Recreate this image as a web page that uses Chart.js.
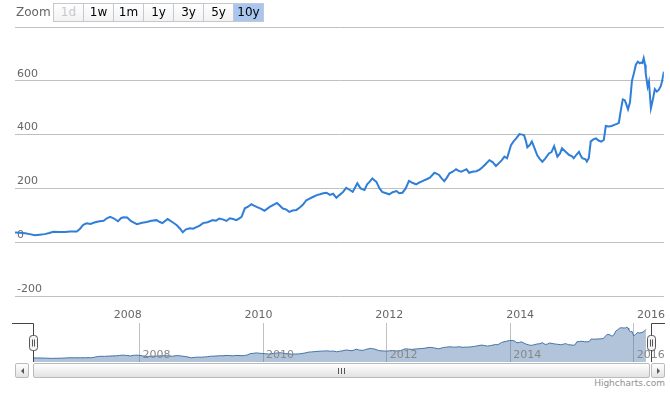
<!DOCTYPE html>
<html><head><meta charset="utf-8">
<script src="https://cdn.jsdelivr.net/npm/chart.js@4.4.0/dist/chart.umd.min.js"></script>
<style>
html,body{margin:0;padding:0;background:#fff;}
#wrap{position:relative;width:670px;height:394px;overflow:hidden;font-family:"DejaVu Sans",Verdana,sans-serif;}
#main{position:absolute;left:0;top:0;}
#nav{position:absolute;left:0;top:318px;}
.zl{position:absolute;left:16px;top:5px;font-size:12px;color:#666;}
.btn{position:absolute;top:3px;height:17px;width:29px;border:1px solid #c4c8d0;background:linear-gradient(#ffffff,#f2f2f2);font-size:12px;line-height:17px;text-align:center;color:#000;}
.btn.sel{background:#a8c6ee;}
.btn.dis{color:#c8c8c8;}
.sb{position:absolute;top:363px;height:13px;border:1px solid #bbb;border-radius:2px;background:linear-gradient(#ffffff,#e2e2e2);box-sizing:content-box;}
.arrL{position:absolute;left:5px;top:4px;width:0;height:0;border-top:3px solid transparent;border-bottom:3px solid transparent;border-right:3px solid #555;}
.arrR{position:absolute;left:5px;top:4px;width:0;height:0;border-top:3px solid transparent;border-bottom:3px solid transparent;border-left:3px solid #555;}
.grip{position:absolute;top:4px;width:1px;height:6px;background:#555;}
.credit{position:absolute;right:5px;top:378px;font-size:9px;color:#909090;}
</style></head>
<body>
<div id="wrap">
  <canvas id="main" width="670" height="320"></canvas>
  <canvas id="nav" width="670" height="46"></canvas>
  <div class="zl">Zoom</div>
  <div class="credit">Highcharts.com</div>
</div>
<script>
// ---- data ----
const years = [
2006.275,2006.35,2006.43,2006.50,2006.58,2006.65,2006.73,2006.80,2006.86,2006.95,
2007.04,2007.12,2007.22,2007.27,2007.32,2007.37,2007.43,2007.50,2007.57,2007.63,
2007.68,2007.73,2007.79,2007.85,2007.90,2007.94,2007.99,2008.05,2008.14,2008.22,
2008.29,2008.36,2008.44,2008.49,2008.53,2008.61,2008.68,2008.75,2008.80,2008.84,
2008.89,2008.95,2009.00,2009.05,2009.10,2009.15,2009.22,2009.30,2009.35,2009.40,
2009.45,2009.51,2009.56,2009.61,2009.66,2009.70,2009.74,2009.79,2009.84,2009.89,
2009.93,2009.97,2010.04,2010.09,2010.13,2010.17,2010.22,2010.28,2010.32,2010.37,
2010.42,2010.47,2010.52,2010.58,2010.63,2010.68,2010.73,2010.78,2010.83,2010.89,
2010.94,2010.99,2011.04,2011.09,2011.14,2011.19,2011.24,2011.29,2011.34,2011.39,
2011.44,2011.48,2011.51,2011.56,2011.62,2011.66,2011.70,2011.74,2011.77,2011.80,
2011.85,2011.89,2011.95,2012.00,2012.05,2012.11,2012.15,2012.20,2012.25,2012.30,
2012.36,2012.41,2012.46,2012.49,2012.53,2012.57,2012.62,2012.69,2012.72,2012.76,
2012.80,2012.84,2012.88,2012.92,2012.97,2013.02,2013.06,2013.10,2013.15,2013.18,
2013.22,2013.27,2013.33,2013.38,2013.42,2013.47,2013.53,2013.58,2013.63,2013.68,
2013.72,2013.76,2013.80,2013.86,2013.90,2013.94,2013.99,2014.03,2014.06,2014.09,
2014.11,2014.15,2014.18,2014.22,2014.26,2014.30,2014.34,2014.38,2014.44,2014.48,
2014.52,2014.57,2014.61,2014.64,2014.70,2014.75,2014.79,2014.82,2014.86,2014.90,
2014.93,2014.95,2015.00,2015.02,2015.05,2015.08,2015.12,2015.16,2015.20,2015.24,
2015.28,2015.31,2015.35,2015.40,2015.44,2015.48,2015.51,2015.54,2015.57,2015.60,
2015.62,2015.65,2015.68,2015.71,2015.74,2015.77,2015.80,2015.83,2015.85,2015.87,
2015.89,2015.91,2015.92,2015.95,2015.97,2016.00,2016.03,2016.06,2016.09,2016.12,
2016.15,2016.17,2016.198
];
const prices = [
36,35,33,30,26,28,30,34,39,38,
38,40,40,50,65,70,68,74,78,80,
89,94,88,78,90,93,92,78,67,72,
75,80,82,75,71,86,75,63,50,37,
48,52,50,56,62,71,74,82,80,88,
85,79,89,86,82,88,94,126,132,141,
136,131,124,117,124,131,138,146,137,125,
122,113,118,120,129,140,156,162,168,175,
178,182,184,176,180,165,176,186,202,195,
187,205,219,200,194,215,225,237,230,225,
200,187,182,178,186,190,182,184,200,228,
220,215,222,225,230,234,240,258,255,250,
237,227,240,256,262,271,265,262,268,271,
258,262,264,270,278,290,305,298,283,295,
305,318,312,361,375,386,402,400,398,375,
353,362,374,350,324,310,299,310,330,335,
357,318,330,349,335,324,320,312,325,336,
320,312,308,300,312,375,382,386,378,374,
380,432,430,432,436,440,444,490,531,528,
515,494,520,600,628,660,671,665,668,666,
684,660,628,578,597,498,530,569,560,566,
580,597,634
];
const yearTicks = [2008, 2010, 2012, 2014, 2016];
const rangeLabels = ['1d','1w','1m','1y','3y','5y','10y'];
const selectedRange = '10y';
const disabledRange = '1d';

const FONT = '"DejaVu Sans", Verdana, sans-serif';
const points = years.map((x, i) => ({x: x, y: prices[i]}));

// range buttons
const wrap = document.getElementById('wrap');
rangeLabels.forEach((t, i) => {
  const b = document.createElement('div');
  b.className = 'btn' + (t === selectedRange ? ' sel' : '') + (t === disabledRange ? ' dis' : '');
  b.style.left = (53 + 30 * i) + 'px';
  b.textContent = t;
  wrap.appendChild(b);
});

// scrollbar
function mk(cls, left, width) {
  const d = document.createElement('div');
  d.className = cls; d.style.left = left + 'px'; d.style.width = width + 'px';
  wrap.appendChild(d); return d;
}
const lb = mk('sb', 15, 12); const la = document.createElement('div'); la.className = 'arrL'; lb.appendChild(la);
const tr = mk('sb', 33, 615);
[-3, 0, 3].forEach(o => { const g = document.createElement('div'); g.className = 'grip'; g.style.left = (307 + o) + 'px'; tr.appendChild(g); });
const rb = mk('sb', 651, 12); const ra = document.createElement('div'); ra.className = 'arrR'; rb.appendChild(ra);

const X_MIN = 2006.275, X_MAX = 2016.198;

new Chart(document.getElementById('main'), {
  type: 'line',
  data: {datasets: [{data: points, borderColor: '#2f7ed8', borderWidth: 2, pointRadius: 0, tension: 0, fill: false}]},
  options: {
    responsive: false, animation: false,
    layout: {padding: {left: 15, right: 5, top: 27, bottom: 0}},
    plugins: {legend: {display: false}, tooltip: {enabled: false}},
    scales: {
      x: {
        type: 'linear', min: X_MIN, max: X_MAX,
        grid: {display: false}, border: {display: false},
        afterBuildTicks: s => { s.ticks = yearTicks.map(v => ({value: v})); },
        afterFit: s => { s.height = 24; },
        ticks: {callback: v => String(v), color: '#666', font: {size: 11, family: FONT}, padding: 5, maxRotation: 0, autoSkip: false}
      },
      y: {
        min: -200, max: 800,
        afterFit: s => { s.width = 0; },
        grid: {color: '#C0C0C0', drawTicks: false}, border: {display: false},
        ticks: {stepSize: 200, mirror: true, padding: 2, labelOffset: -7, color: '#666', font: {size: 11, family: FONT},
          callback: v => v === 800 ? '' : String(v)}
      }
    }
  }
});

const navDecor = {
  id: 'navDecor',
  afterDatasetsDraw(chart) {
    const ctx = chart.ctx, a = chart.chartArea, xs = chart.scales.x;
    ctx.save();
    ctx.fillStyle = '#888';
    ctx.font = '11px ' + FONT;
    ctx.textBaseline = 'alphabetic'; ctx.textAlign = 'left';
    yearTicks.forEach(v => { ctx.fillText(String(v), xs.getPixelForValue(v) + 3, a.bottom - 4); });
    ctx.strokeStyle = '#444'; ctx.lineWidth = 1;
    ctx.beginPath();
    ctx.moveTo(12, a.top + 0.5); ctx.lineTo(a.left + 0.5, a.top + 0.5); ctx.lineTo(a.left + 0.5, a.bottom);
    ctx.moveTo(a.right + 0.5, a.bottom); ctx.lineTo(a.right + 0.5, a.top + 0.5); ctx.lineTo(665, a.top + 0.5);
    ctx.stroke();
    [a.left, a.right].forEach(cx => {
      const x = Math.round(cx) - 4 + 0.5, y = a.top + 12.5, w = 8, h = 15, r = 3;
      ctx.beginPath();
      ctx.moveTo(x + r, y); ctx.lineTo(x + w - r, y); ctx.quadraticCurveTo(x + w, y, x + w, y + r);
      ctx.lineTo(x + w, y + h - r); ctx.quadraticCurveTo(x + w, y + h, x + w - r, y + h);
      ctx.lineTo(x + r, y + h); ctx.quadraticCurveTo(x, y + h, x, y + h - r);
      ctx.lineTo(x, y + r); ctx.quadraticCurveTo(x, y, x + r, y); ctx.closePath();
      ctx.fillStyle = '#f4f4f4'; ctx.fill(); ctx.strokeStyle = '#555'; ctx.stroke();
      ctx.beginPath();
      ctx.moveTo(x + 3, y + 4); ctx.lineTo(x + 3, y + h - 4);
      ctx.moveTo(x + 5, y + 4); ctx.lineTo(x + 5, y + h - 4);
      ctx.strokeStyle = '#555'; ctx.stroke();
    });
    ctx.restore();
  }
};

new Chart(document.getElementById('nav'), {
  type: 'line',
  data: {datasets: [{data: points, borderColor: '#4572A7', borderWidth: 1, backgroundColor: 'rgba(69,114,167,0.42)', fill: 'start', pointRadius: 0, tension: 0}]},
  options: {
    responsive: false, animation: false,
    layout: {padding: {left: 33, right: 19, top: 5, bottom: 2}},
    plugins: {legend: {display: false}, tooltip: {enabled: false}},
    scales: {
      x: {
        type: 'linear', min: X_MIN, max: 2016.28,
        afterBuildTicks: s => { s.ticks = yearTicks.map(v => ({value: v})); },
        afterFit: s => { s.height = 0; },
        ticks: {display: false}, grid: {color: '#C0C0C0', drawTicks: false}, border: {display: false}
      },
      y: {display: false, min: -50, max: 770}
    }
  },
  plugins: [navDecor]
});
</script>
</body></html>
